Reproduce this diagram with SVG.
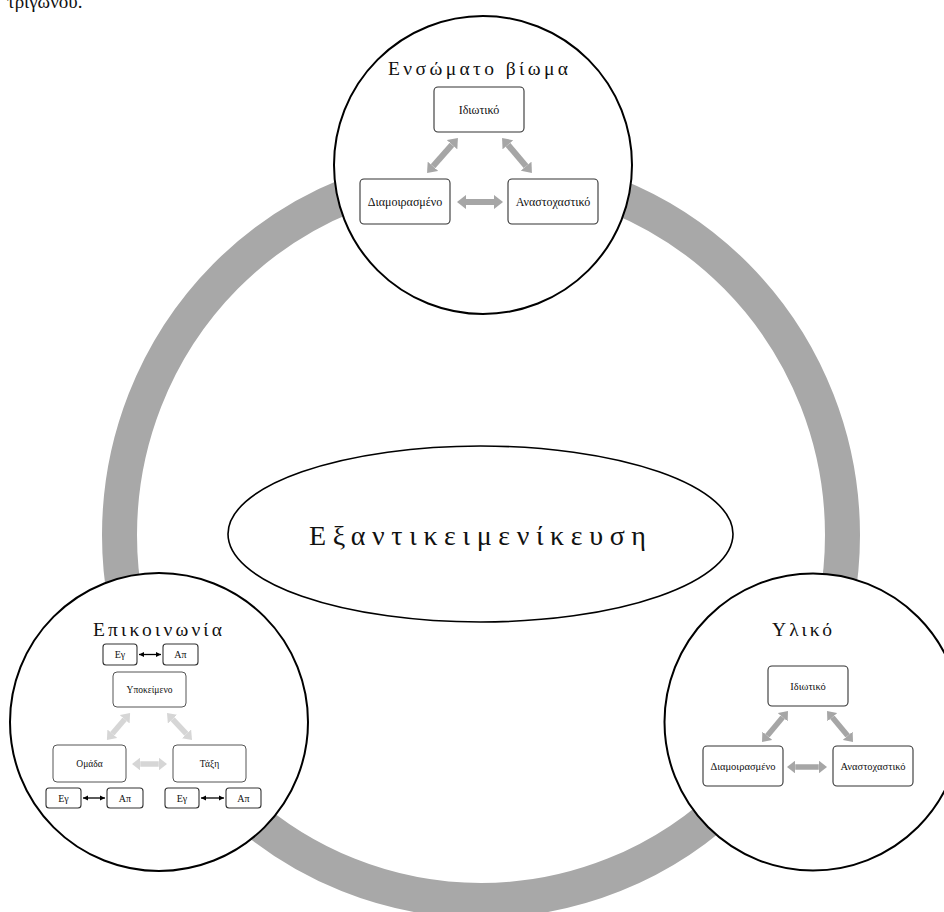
<svg xmlns="http://www.w3.org/2000/svg" width="944" height="912" viewBox="0 0 944 912">
<style>
.bg{fill:#fff}
.ring{fill:none;stroke:#a8a8a8;stroke-width:35}
.circ{fill:#fff;stroke:#000;stroke-width:2}
.core{fill:#fff;stroke:#000;stroke-width:1.6}
.box{fill:#fff;stroke:#333;stroke-width:1.1}
.sbox{fill:#fff;stroke:#555;stroke-width:1}
.title{font-family:"Liberation Serif","DejaVu Serif",serif;font-size:19.5px;fill:#111}
.lbl{font-family:"Liberation Serif","DejaVu Serif",serif;fill:#111;text-anchor:middle}
.big{font-family:"Liberation Serif","DejaVu Serif",serif;font-size:28px;fill:#111}
.garr{fill:none;stroke:#a6a6a6;marker-start:url(#hg);marker-end:url(#hg)}
.larr{fill:none;stroke:#d6d6d6;marker-start:url(#hl);marker-end:url(#hl)}
.barr{fill:none;stroke:#000;stroke-width:1.3;marker-start:url(#hb);marker-end:url(#hb)}
</style>
<defs>
<marker id="hg" viewBox="0 0 10 10" refX="0" refY="5" markerWidth="1.5" markerHeight="2.35" preserveAspectRatio="none" orient="auto-start-reverse"><path d="M0,0 L10,5 L0,10 z" fill="#a6a6a6"/></marker>
<marker id="hl" viewBox="0 0 10 10" refX="0" refY="5" markerWidth="1.5" markerHeight="2.35" preserveAspectRatio="none" orient="auto-start-reverse"><path d="M0,0 L10,5 L0,10 z" fill="#d6d6d6"/></marker>
<marker id="hb" viewBox="0 0 10 10" refX="10" refY="5" markerWidth="4" markerHeight="4" preserveAspectRatio="none" orient="auto-start-reverse"><path d="M0,0 L10,5 L0,10 z" fill="#000"/></marker>
</defs>
<rect class="bg" x="0" y="0" width="944" height="912"/>
<text x="7" y="8" style="font-family:'Liberation Serif','DejaVu Serif',serif;font-size:19px;fill:#111">τριγώνου.</text>

<g id="cycle-ring"><ellipse class="ring" cx="481" cy="535" rx="361.5" ry="365.5"/></g>

<g id="node-core">
<ellipse class="core" cx="480.5" cy="534" rx="252.5" ry="88"/>
<text class="big" x="309" y="545" textLength="337" lengthAdjust="spacing">Εξαντικειμενίκευση</text>
</g>

<g id="node-embodied">
<circle class="circ" cx="483" cy="165" r="149"/>
<text class="title" x="388" y="75" textLength="180" lengthAdjust="spacing">Ενσώματο βίωμα</text>
<g id="embodied-private"><rect class="box" x="434" y="87" width="90" height="45" rx="4"/><text class="lbl" x="479" y="113.5" font-size="12">Ιδιωτικό</text></g>
<g id="embodied-shared"><rect class="box" x="360" y="179" width="90" height="45" rx="4"/><text class="lbl" x="405" y="205.5" font-size="12">Διαμοιρασμένο</text></g>
<g id="embodied-reflective"><rect class="box" x="508" y="179" width="90" height="45" rx="4"/><text class="lbl" x="553" y="205.5" font-size="12">Αναστοχαστικό</text></g>
</g>

<g id="node-material">
<circle class="circ" cx="813" cy="722" r="148.5"/>
<text class="title" x="772" y="636" textLength="60" lengthAdjust="spacing">Υλικό</text>
<g id="material-private"><rect class="box" x="768" y="666" width="80" height="40" rx="4"/><text class="lbl" x="808" y="689.5" font-size="10.5">Ιδιωτικό</text></g>
<g id="material-shared"><rect class="box" x="703" y="746" width="80" height="40" rx="4"/><text class="lbl" x="743" y="769.5" font-size="10.5">Διαμοιρασμένο</text></g>
<g id="material-reflective"><rect class="box" x="833" y="746" width="80" height="40" rx="4"/><text class="lbl" x="873" y="769.5" font-size="10.5">Αναστοχαστικό</text></g>
</g>

<g id="node-communication">
<circle class="circ" cx="159" cy="722" r="149"/>
<text class="title" x="93" y="636" textLength="129" lengthAdjust="spacing">Επικοινωνία</text>
<g id="comm-subject"><rect class="sbox" x="113" y="672" width="73" height="35" rx="4"/><text class="lbl" x="149.5" y="693" font-size="9.5">Υποκείμενο</text></g>
<g id="comm-group"><rect class="sbox" x="53" y="745" width="73" height="37" rx="4"/><text class="lbl" x="89.5" y="767" font-size="9.5">Ομάδα</text></g>
<g id="comm-class"><rect class="sbox" x="173" y="745" width="73" height="37" rx="4"/><text class="lbl" x="209.5" y="767" font-size="9.5">Τάξη</text></g>
<g id="comm-eg1"><rect class="box" x="103" y="644" width="34" height="21" rx="3"/><text class="lbl" x="120" y="658" font-size="10">Εγ</text></g>
<g id="comm-ap1"><rect class="box" x="163" y="644" width="35" height="21" rx="3"/><text class="lbl" x="180.5" y="658" font-size="10">Απ</text></g>
<g id="comm-eg2"><rect class="box" x="46" y="788" width="35" height="20" rx="3"/><text class="lbl" x="63.5" y="801.5" font-size="10">Εγ</text></g>
<g id="comm-ap2"><rect class="box" x="107" y="788" width="36" height="20" rx="3"/><text class="lbl" x="125" y="801.5" font-size="10">Απ</text></g>
<g id="comm-eg3"><rect class="box" x="165" y="788" width="34" height="20" rx="3"/><text class="lbl" x="182" y="801.5" font-size="10">Εγ</text></g>
<g id="comm-ap3"><rect class="box" x="226" y="788" width="35" height="20" rx="3"/><text class="lbl" x="243.5" y="801.5" font-size="10">Απ</text></g>
</g>

<g id="connectors">
<line class="garr" stroke-width="6" x1="452" y1="144.7" x2="433" y2="166.3"/>
<line class="garr" stroke-width="6" x1="507.9" y1="144.8" x2="526.1" y2="166.2"/>
<line class="garr" stroke-width="6" x1="466" y1="202" x2="494" y2="202"/>
<line class="garr" stroke-width="5.5" x1="782.7" y1="717.3" x2="767.3" y2="735.7"/>
<line class="garr" stroke-width="5.5" x1="832.3" y1="717.3" x2="847.7" y2="735.7"/>
<line class="garr" stroke-width="5.5" x1="795.25" y1="767" x2="818.75" y2="767"/>
<line class="larr" stroke-width="5.5" x1="124.7" y1="719.3" x2="112.3" y2="733.7"/>
<line class="larr" stroke-width="5.5" x1="172.6" y1="719.1" x2="186.4" y2="733.9"/>
<line class="larr" stroke-width="5.5" x1="140.25" y1="764" x2="158.75" y2="764"/>
<line class="barr" x1="139" y1="654.5" x2="161" y2="654.5"/>
<line class="barr" x1="83" y1="798" x2="105" y2="798"/>
<line class="barr" x1="201" y1="798" x2="224" y2="798"/>
</g>
</svg>
